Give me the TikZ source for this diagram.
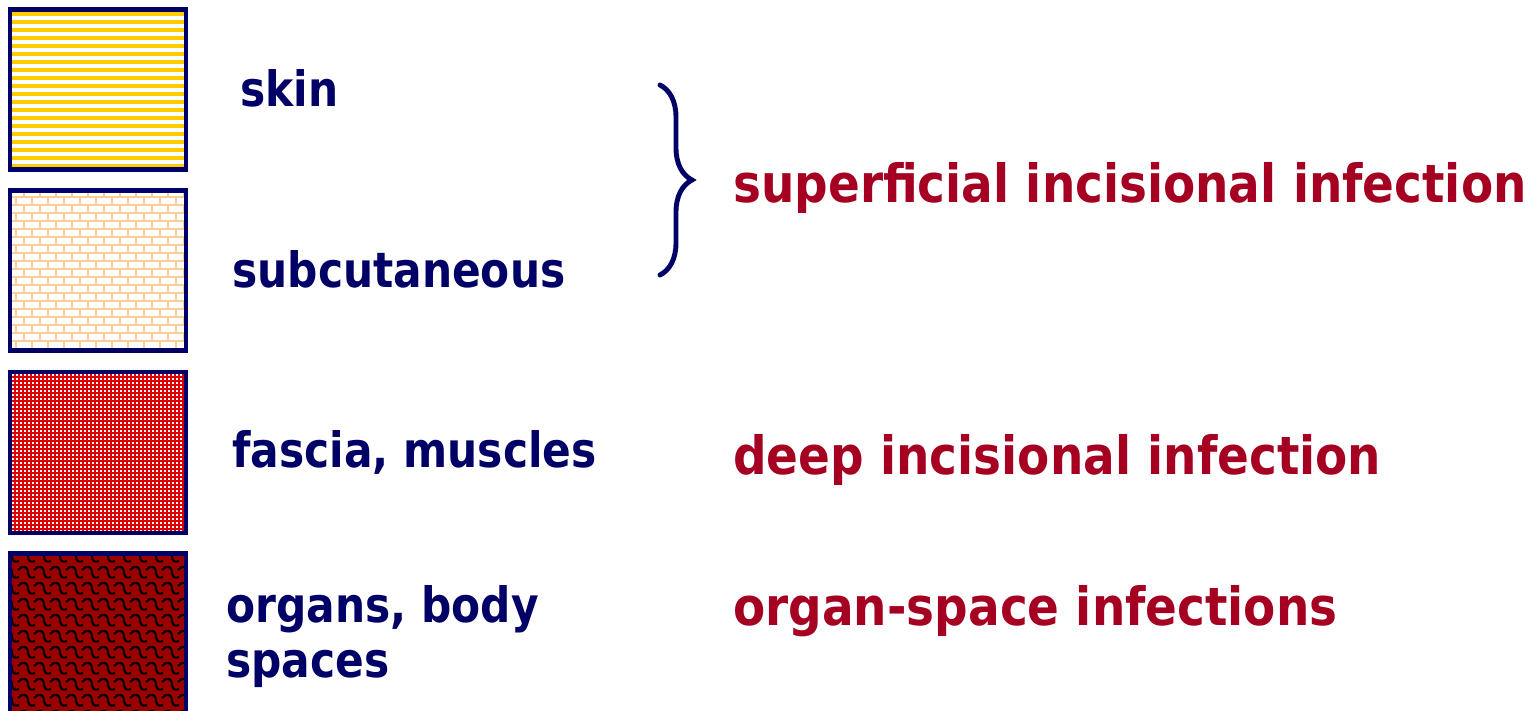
\documentclass[tikz,border=0pt]{standalone}
\usepackage{fontspec}
\setmainfont{DejaVu Sans}
\newfontfamily\layerfont{DejaVu Sans}[FakeStretch=0.87]
\newfontfamily\infofont{DejaVu Sans}[FakeStretch=0.89]
\usetikzlibrary{decorations.pathreplacing}
\definecolor{navy}{RGB}{0,0,102}
\definecolor{wine}{RGB}{165,0,33}
\definecolor{skinyellow}{RGB}{255,204,0}
\definecolor{brick}{RGB}{255,204,153}
\definecolor{fasciared}{RGB}{220,0,0}
\definecolor{organred}{RGB}{153,0,0}
\tikzset{
  layerbox/.style={draw=navy, line width=2.6pt},
  layerlabel/.style={anchor=base west, inner sep=0pt, text=navy, font=\layerfont\fontsize{27.7}{31.3}\selectfont\bfseries},
  infection/.style={anchor=base west, inner sep=0pt, text=wine, font=\infofont\fontsize{30}{34}\selectfont\bfseries},
}
\begin{document}
\begin{tikzpicture}[x=0.02cm, y=-0.02cm]
\useasboundingbox (0,0) rectangle (1538,710);
% Skin: yellow stripes
\begin{scope}
\clip (10,9.5) rectangle (186,169.5);
\fill[white] (10,9.5) rectangle (186,169.5);
\foreach \y in {14,22,...,166}
  \draw[skinyellow, line width=2.1pt] (10,\y) -- (186,\y);
\end{scope}
\draw[layerbox] (10,9.5) rectangle (186,169.5);
% Subcutaneous: bricks
\begin{scope}
\clip (10,190.5) rectangle (186,350.5);
\fill[white] (10,190.5) rectangle (186,350.5);
\foreach \y in {197,205,...,349}
  \draw[brick, line width=0.9pt] (10,\y) -- (186,\y);
\foreach \y [count=\i] in {189,197,...,349} {
  \pgfmathsetmacro{\xo}{mod(\i,2)*8}
  \foreach \x in {0,16,...,192}
    \draw[brick, line width=0.9pt] (\x+\xo,\y) -- (\x+\xo,\y+8);
}
\end{scope}
\draw[layerbox] (10,190.5) rectangle (186,350.5);
% Fascia, muscles: red with white dots
\begin{scope}
\clip (10,372) rectangle (186,533);
\fill[fasciared] (10,372) rectangle (186,533);
\foreach \y in {375,379,...,531}
  \draw[white, line width=1.1pt, dash pattern=on 1.1pt off 1.18pt] (12,\y) -- (186,\y);
\end{scope}
\draw[layerbox] (10,372) rectangle (186,533);
% Organs, body spaces: dark red scales
\begin{scope}
\clip (10,553.5) rectangle (186,740);
\fill[organred] (10,553.5) rectangle (186,740);
\foreach \x in {2,18,...,186}
  \foreach \y in {548,564,...,724}
    \draw[black, line width=1.2pt] (\x,\y+6) .. controls (\x+4,\y+1) and (\x+10,\y+2) .. (\x+10,\y+8)
      .. controls (\x+10,\y+13) and (\x+13,\y+15) .. (\x+17,\y+13);
\end{scope}
\draw[layerbox] (10,553.5) rectangle (186,740);
% Layer names
\node[layerlabel] (skin) at (240,106) {skin};
\node[layerlabel] (subcut) at (232,287) {subcutaneous};
\node[layerlabel] (fascia) at (232,467) {fascia, muscles};
\node[layerlabel, align=left] (organs) at (226,677) {organs, body\\spaces};
% Infection types
\coordinate (bracetop) at (660,85);
\coordinate (bracebot) at (660,275);
\draw[navy, line width=2.8pt, line cap=round, decorate, decoration={brace, amplitude=0.64cm}] (bracetop) -- (bracebot);
\node[infection] (superficial) at (733,202) {superficial incisional infection};
\node[infection] (deep) at (733,474) {deep incisional infection};
\node[infection] (organspace) at (733,625) {organ-space infections};
\end{tikzpicture}
\end{document}
